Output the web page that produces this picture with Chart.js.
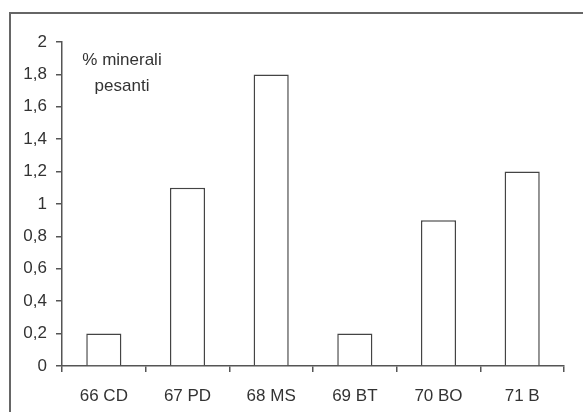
<!DOCTYPE html>
<html>
<head>
<meta charset="utf-8">
<script src="https://cdn.jsdelivr.net/npm/chart.js@4"></script>
<style>
  html, body { margin: 0; padding: 0; background: #fff; }
  #wrap { width: 583px; height: 412px; position: relative; }
</style>
</head>
<body>
<div id="wrap"><canvas id="chart" width="583" height="412"></canvas></div>
<script>
const categories = ['66 CD', '67 PD', '68 MS', '69 BT', '70 BO', '71 B'];
const values = [0.2, 1.1, 1.8, 0.2, 0.9, 1.2];
const titleLines = ['% minerali', 'pesanti'];

const fontFamily = '"Liberation Sans", Arial, sans-serif';

// frame round the chart and the little label inside the plot
const decorPlugin = {
    id: 'decor',
    afterDraw(chart) {
        const ctx = chart.ctx;
        ctx.save();
        ctx.strokeStyle = '#666';
        ctx.lineWidth = 2;
        ctx.beginPath();
        ctx.moveTo(10, 412);
        ctx.lineTo(10, 13);
        ctx.lineTo(583, 13);
        ctx.stroke();

        ctx.fillStyle = '#333';
        ctx.font = '17px ' + fontFamily;
        ctx.textAlign = 'center';
        ctx.textBaseline = 'middle';
        const x = chart.chartArea.left + 60;
        titleLines.forEach((line, i) => {
            ctx.fillText(line, x, 60 + i * 26);
        });
        ctx.restore();
    }
};

const ctx = document.getElementById('chart').getContext('2d');
new Chart(ctx, {
    type: 'bar',
    data: {
        labels: categories,
        datasets: [{
            data: values,
            backgroundColor: '#fff',
            borderColor: '#444',
            borderWidth: 1.5,
            categoryPercentage: 0.42,
            barPercentage: 1
        }]
    },
    options: {
        responsive: false,
        animation: false,
        layout: { padding: { left: 0, right: 19, top: 42, bottom: 0 } },
        plugins: {
            legend: { display: false },
            tooltip: { enabled: false }
        },
        scales: {
            x: {
                offset: true,
                grid: {
                    offset: true,
                    drawOnChartArea: false,
                    tickLength: 6,
                    color: '#555',
                    lineWidth: 1.5
                },
                border: { color: '#555', width: 1.5 },
                ticks: {
                    color: '#333',
                    padding: 14,
                    maxRotation: 0,
                    font: { family: fontFamily, size: 17 }
                },
                afterFit(scale) { scale.height = 46; }
            },
            y: {
                min: 0,
                max: 2,
                ticks: {
                    stepSize: 0.2,
                    color: '#333',
                    padding: 9,
                    font: { family: fontFamily, size: 17 },
                    callback: v => (Math.round(v * 10) / 10).toString().replace('.', ',')
                },
                grid: {
                    drawOnChartArea: false,
                    tickLength: 6,
                    color: '#555',
                    lineWidth: 1.5
                },
                border: { color: '#555', width: 1.5 },
                afterFit(scale) { scale.width = 62; }
            }
        }
    },
    plugins: [decorPlugin]
});
</script>
</body>
</html>
